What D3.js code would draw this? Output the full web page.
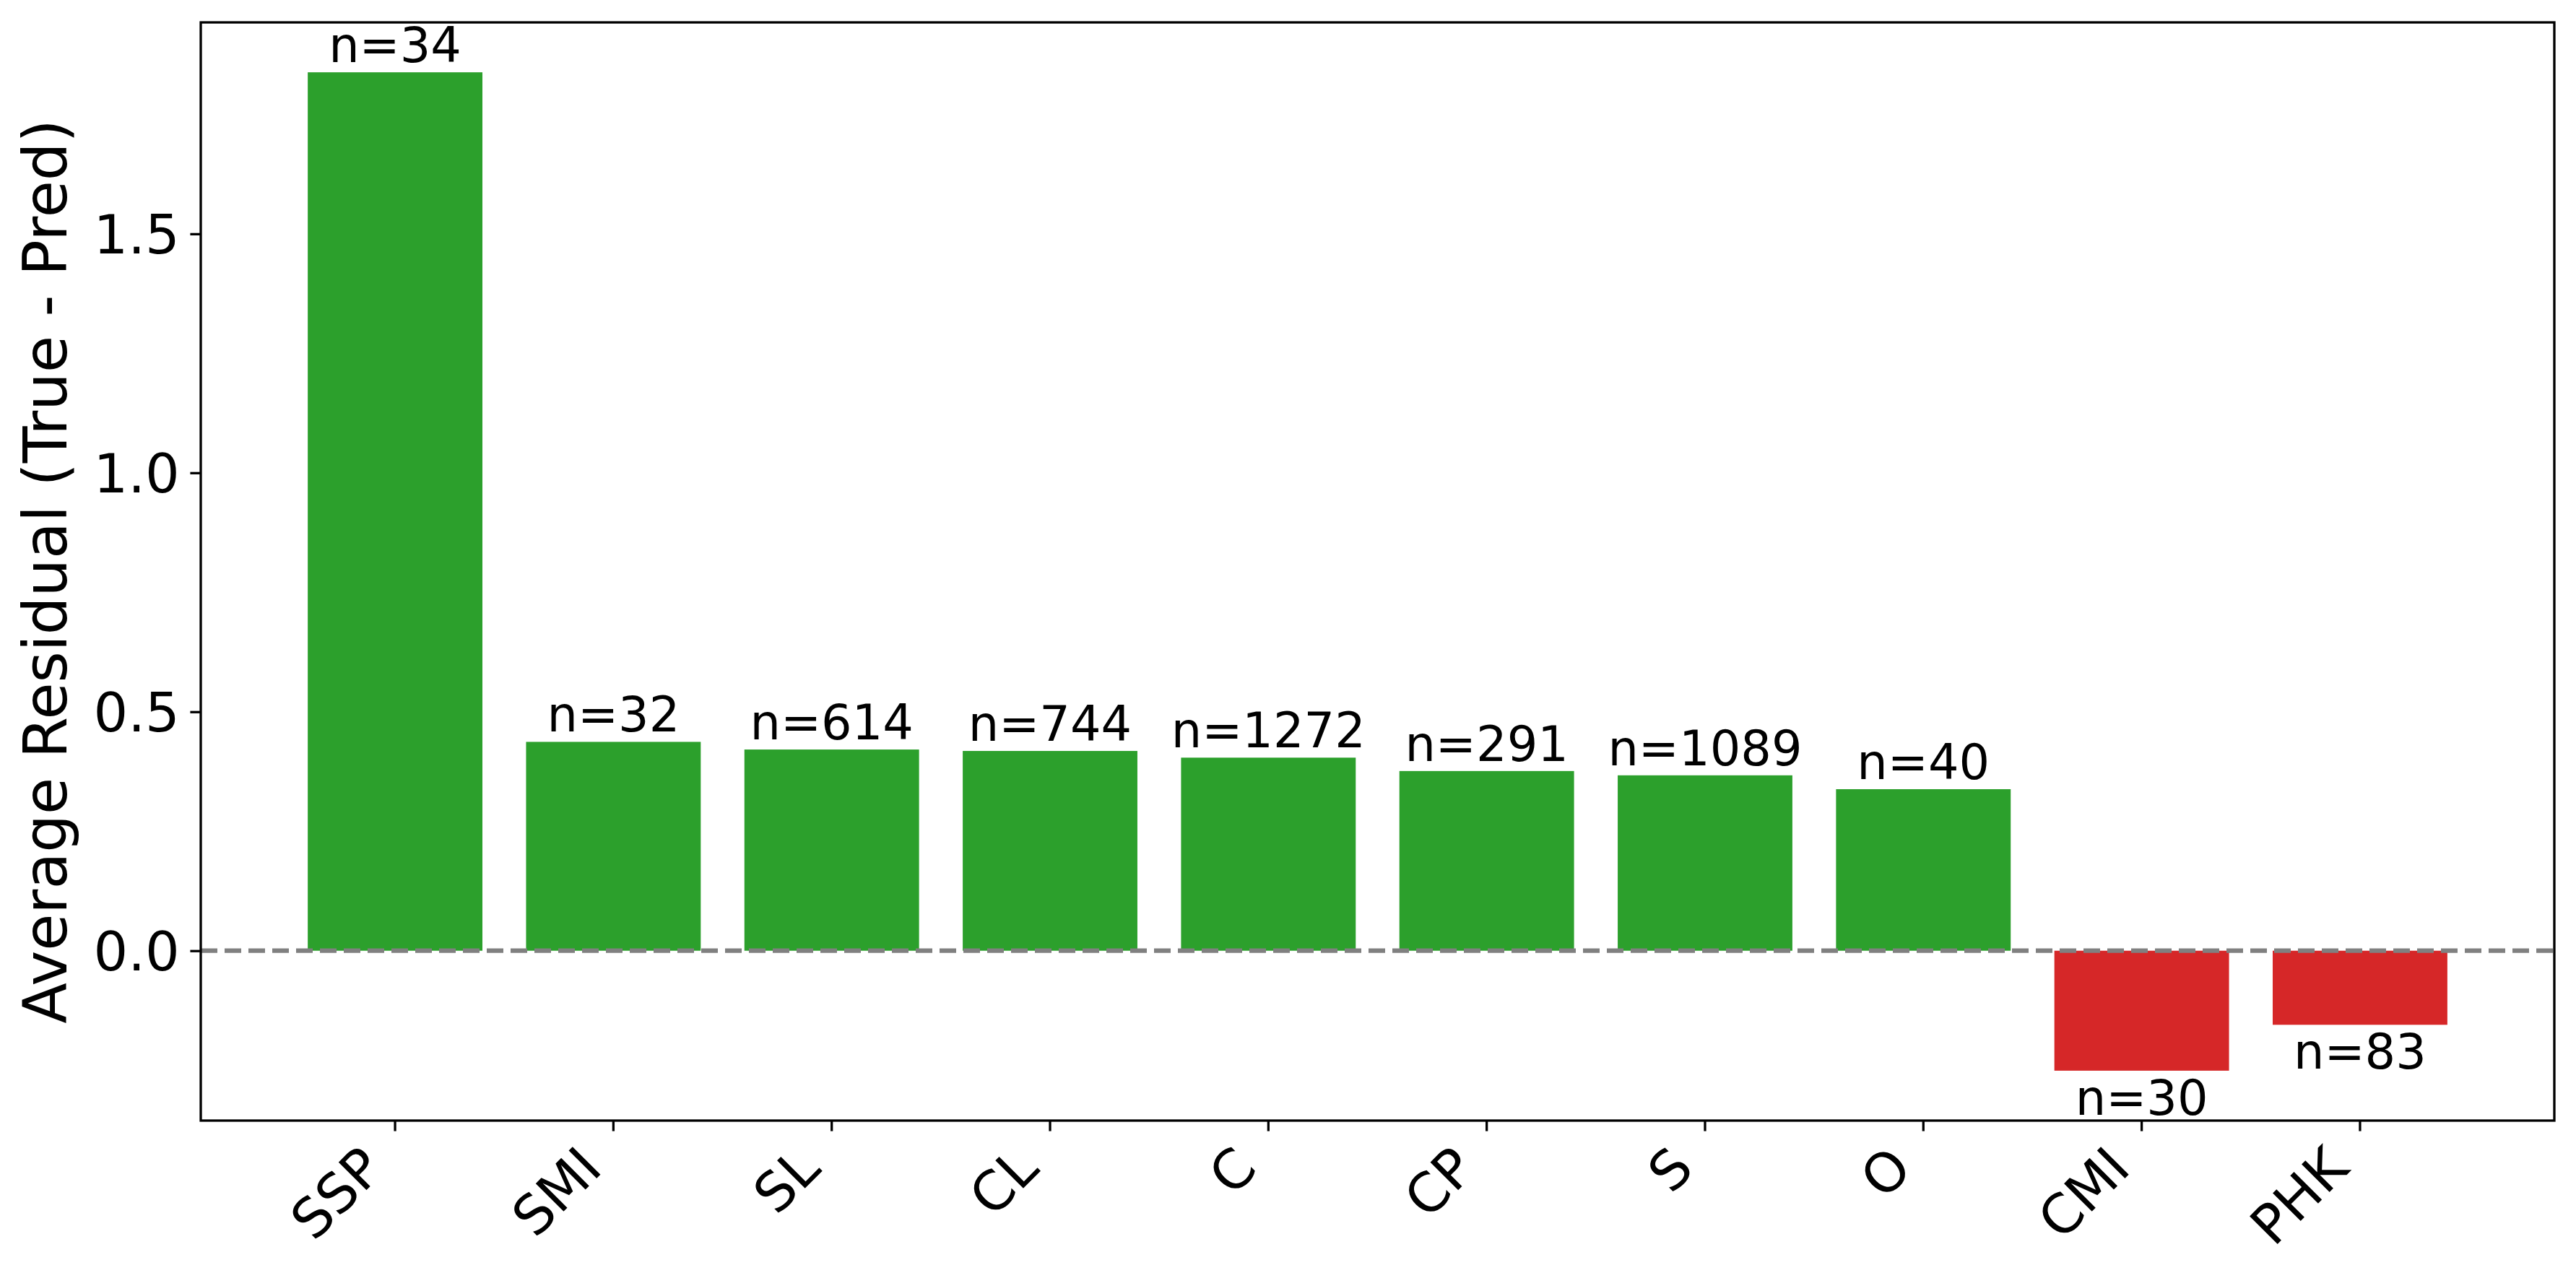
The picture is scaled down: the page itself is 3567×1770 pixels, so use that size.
<!DOCTYPE html>
<html>
<head>
<meta charset="utf-8">
<script src="https://cdn.jsdelivr.net/npm/d3@7"></script>
<style>
  html, body { margin: 0; padding: 0; background: #fff; }
  svg text { font-family: "DejaVu Sans", sans-serif; }
</style>
</head>
<body>
<div class="residual-chart"></div>
<script>
// Chart data
const categories = ["SSP", "SMI", "SL", "CL", "C", "CP", "S", "O", "CMI", "PHK"]
const residuals = [1.838, 0.437, 0.421, 0.418, 0.404, 0.376, 0.367, 0.338, -0.251, -0.155]
const counts = [34, 32, 614, 744, 1272, 291, 1089, 40, 30, 83]
const yTicks = [0.0, 0.5, 1.0, 1.5]

const width = 3567
const height = 1770
const margin = { top: 31, right: 30, bottom: 218, left: 278 }

const data = categories.map((c, i) => ({ cat: c, value: residuals[i], n: counts[i] }))

// x, y scales
const x = d3.scaleBand()
    .domain(categories)
    .range([margin.left, width - margin.right])
    .paddingInner(0.2)
    .paddingOuter(0.49)

// 5% margin like matplotlib autoscale
const ext = d3.extent(residuals.concat([0]))
const pad = (ext[1] - ext[0]) * 0.05
const y = d3.scaleLinear()
    .domain([ext[0] - pad, ext[1] + pad])
    .range([height - margin.bottom, margin.top])

const svg = d3.select(".residual-chart")
    .append("svg")
    .attr("width", width)
    .attr("height", height)

// Bars
svg.selectAll("rect.bar")
    .data(data)
    .join("rect")
    .attr("class", "bar")
    .attr("x", d => x(d.cat))
    .attr("width", x.bandwidth())
    .attr("y", d => y(Math.max(0, d.value)))
    .attr("height", d => Math.abs(y(d.value) - y(0)))
    .attr("fill", d => d.value >= 0 ? "#2ca02c" : "#d62728")

// Zero reference line
svg.append("line")
    .attr("x1", margin.left)
    .attr("x2", width - margin.right)
    .attr("y1", y(0))
    .attr("y2", y(0))
    .attr("stroke", "#808080")
    .attr("stroke-width", 6.25)
    .attr("stroke-dasharray", "23,10")

// n= labels
svg.selectAll("text.count")
    .data(data)
    .join("text")
    .attr("class", "count")
    .attr("x", d => x(d.cat) + x.bandwidth() / 2)
    .attr("y", d => d.value >= 0 ? y(d.value) - 14 : y(d.value) + 61)
    .attr("text-anchor", "middle")
    .attr("font-size", 67)
    .attr("fill", "black")
    .text(d => `n=${d.n}`)

// y axis
const yAxis = d3.axisLeft(y)
    .tickValues(yTicks)
    .tickFormat(d3.format(".1f"))
    .tickSize(14.6)
    .tickSizeOuter(0)
    .tickPadding(14.6)

const gy = svg.append("g")
    .attr("transform", `translate(${margin.left}, 0)`)
    .call(yAxis)
gy.select(".domain").remove()
gy.selectAll(".tick line").attr("stroke", "black").attr("stroke-width", 3.3)
gy.selectAll(".tick text")
    .attr("font-size", 75)
    .attr("fill", "black")
    .attr("dy", "0.36em")

// x axis
const xAxis = d3.axisBottom(x)
    .tickSize(14.6)
    .tickSizeOuter(0)
    .tickFormat("")

const gx = svg.append("g")
    .attr("transform", `translate(0, ${height - margin.bottom})`)
    .call(xAxis)
gx.select(".domain").remove()
gx.selectAll(".tick line").attr("stroke", "black").attr("stroke-width", 3.3)

// rotated tick labels, right aligned like ha='right', rotation=45
const fsX = 75
const labelTop = height - margin.bottom + 29.2
svg.selectAll("text.xlabel")
    .data(categories)
    .join("text")
    .attr("class", "xlabel")
    .attr("text-anchor", "end")
    .attr("font-size", fsX)
    .attr("fill", "black")
    .attr("transform", d => {
        const ax = x(d) + x.bandwidth() / 2 - 0.707 * 0.24 * fsX
        const ay = labelTop + 0.707 * 0.76 * fsX
        return `translate(${ax}, ${ay}) rotate(-45)`
    })
    .text(d => d)

// Frame
svg.append("rect")
    .attr("x", margin.left)
    .attr("y", margin.top)
    .attr("width", width - margin.left - margin.right)
    .attr("height", height - margin.top - margin.bottom)
    .attr("fill", "none")
    .attr("stroke", "black")
    .attr("stroke-width", 3.3)

// y label
svg.append("text")
    .text("Average Residual (True - Pred)")
    .attr("transform", `translate(92, ${(margin.top + height - margin.bottom) / 2}) rotate(-90)`)
    .attr("text-anchor", "middle")
    .attr("font-size", 83)
    .attr("fill", "black")
</script>
</body>
</html>
